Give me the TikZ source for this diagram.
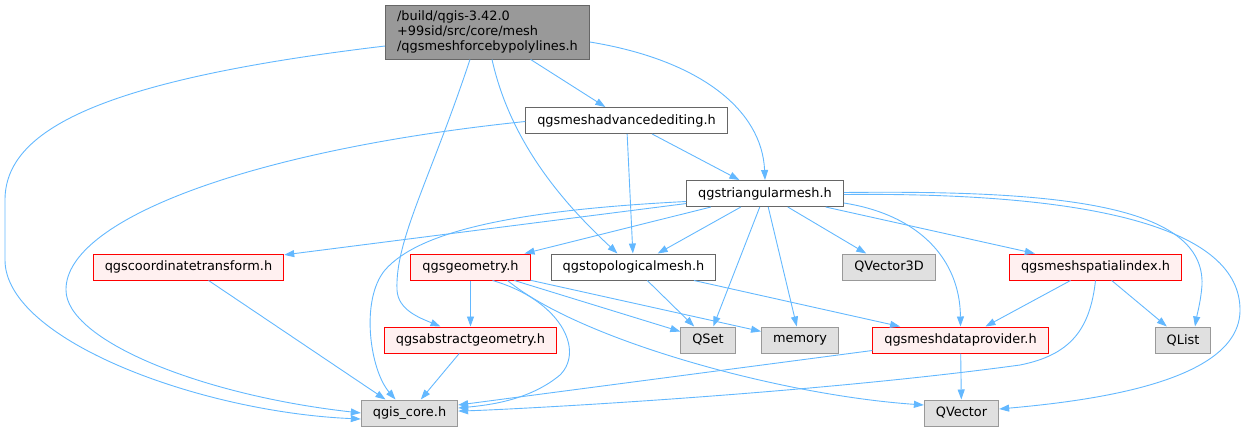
\documentclass[tikz,border=0pt]{standalone}
\usepackage{fontspec}
\setmainfont{DejaVu Sans}
\usetikzlibrary{arrows.meta}
\definecolor{edgeblue}{HTML}{63B8FF}
\definecolor{redfill}{HTML}{FFF0F0}
\tikzset{
	filebox/.style={draw, line width=1pt, minimum height=26pt, inner xsep=11.5pt, inner ysep=0pt, font=\fontsize{12.9}{15}\selectfont},
	mainfile/.style={filebox, draw=black!60, fill=black!40, align=left, minimum height=54pt, inner ysep=4pt},
	plainfile/.style={filebox, draw=black!60, fill=white},
	redfile/.style={filebox, draw=red, fill=redfill},
	extfile/.style={filebox, draw=black!40, fill=black!12},
	incl/.style={draw=edgeblue, line width=0.9pt, -{Triangle[length=10pt,width=7pt]}}
}

\begin{document}
\begin{tikzpicture}[x=1pt,y=-1pt]
		%%%%% START %%%%%
		\useasboundingbox (0,0) rectangle (1246,432);
		
		\node[mainfile] (main) at (487.5,32) {/build/qgis-3.42.0\\+99sid/src/core/mesh\\/qgsmeshforcebypolylines.h};
		\node[plainfile] (adv) at (626.5,120.5) {qgsmeshadvancedediting.h};
		\node[plainfile] (tri) at (765,193.5) {qgstriangularmesh.h};
		
		\node[redfile] (coord) at (188.5,267) {qgscoordinatetransform.h};
		\node[redfile] (geom) at (470.5,267) {qgsgeometry.h};
		\node[plainfile] (topo) at (633.5,267) {qgstopologicalmesh.h};
		\node[extfile] (qv3d) at (889,267) {QVector3D};
		\node[redfile] (spidx) at (1095.5,267) {qgsmeshspatialindex.h};
		
		\node[redfile] (absgeom) at (470.5,340) {qgsabstractgeometry.h};
		\node[extfile] (qset) at (708,340) {QSet};
		\node[extfile] (memory) at (800,340) {memory};
		\node[redfile] (dprov) at (960.5,340) {qgsmeshdataprovider.h};
		\node[extfile] (qlist) at (1183,340) {QList};
		
		\node[extfile] (core) at (409.5,413) {qgis\_core.h};
		\node[extfile] (qvec) at (961.5,413) {QVector};
		
		% from the top file
		\draw[incl] ([yshift=-14pt]main.west) .. controls (100,80) and (5,130) .. (5,200) -- (5,260) .. controls (5,340) and (200,412) .. ([yshift=-6pt]core.west);
		\draw[incl] (main) -- (adv);
		\draw[incl] ([yshift=-10pt]main.east) .. controls (700,60) and (762,110) .. (tri.north);
		\draw[incl] ([xshift=-17.5pt]main.south) .. controls (430,180) and (395,240) .. (397,290) .. controls (398,310) and (420,318) .. ([xshift=-30pt]absgeom.north);
		\draw[incl] ([xshift=4.5pt]main.south) .. controls (510,140) and (560,200) .. ([xshift=-16pt]topo.north);
		
		% qgsmeshadvancedediting.h
		\draw[incl] ([yshift=-1pt]adv.west) .. controls (250,150) and (65,220) .. (66,290) .. controls (66,340) and (200,395) .. (core.west);
		\draw[incl] (adv) -- (tri);
		\draw[incl] (adv) -- (topo);
		
		% qgstriangularmesh.h
		\draw[incl] (tri) -- (coord);
		\draw[incl] (tri) -- (geom);
		\draw[incl] (tri) -- (topo);
		\draw[incl] (tri) -- (qset);
		\draw[incl] (tri) -- (memory);
		\draw[incl] (tri) -- (qv3d);
		\draw[incl] (tri) -- (spidx);
		\draw[incl] ([yshift=-9.5pt]tri.east) .. controls (920,215) and (960,260) .. (dprov.north);
		\draw[incl] ([yshift=1pt]tri.east) .. controls (1060,190) and (1205,205) .. (1202,285) .. controls (1201,300) and (1197,315) .. ([xshift=12pt]qlist.north);
		\draw[incl] ([yshift=-1pt]tri.east) .. controls (1100,192) and (1240,230) .. (1240,310) .. controls (1240,380) and (1100,400) .. ([yshift=4pt]qvec.east);
		\draw[incl] ([yshift=-8pt]tri.west) .. controls (520,210) and (420,230) .. (385,270) .. controls (360,300) and (370,370) .. ([xshift=-14pt]core.north);
		
		% qgsgeometry.h
		\draw[incl] (geom) -- (absgeom);
		\draw[incl] (geom) -- (qset);
		\draw[incl] (geom) -- (memory);
		\draw[incl] ([xshift=37pt]geom.south) .. controls (580,340) and (780,395) .. ([yshift=8pt]qvec.west);
		\draw[incl] ([xshift=22pt]geom.south) .. controls (560,300) and (585,350) .. (560,375) .. controls (530,400) and (490,405) .. ([yshift=5pt]core.east);
		
		% the rest
		\draw[incl] (coord) -- ([xshift=-24pt]core.north);
		\draw[incl] (topo) -- (qset);
		\draw[incl] (topo) -- (dprov);
		\draw[incl] (spidx) -- (dprov);
		\draw[incl] (spidx) -- (qlist);
		\draw[incl] (spidx.south) .. controls (1090,330) and (1070,355) .. (1020,365) .. controls (800,395) and (500,410) .. ([yshift=2pt]core.east);
		\draw[incl] (absgeom) -- (core);
		\draw[incl] ([yshift=3pt]dprov.south west) -- ([yshift=8pt]core.east);
		\draw[incl] (dprov) -- (qvec);
		
		%%%%% END %%%%%
	\end{tikzpicture}
\end{document}
